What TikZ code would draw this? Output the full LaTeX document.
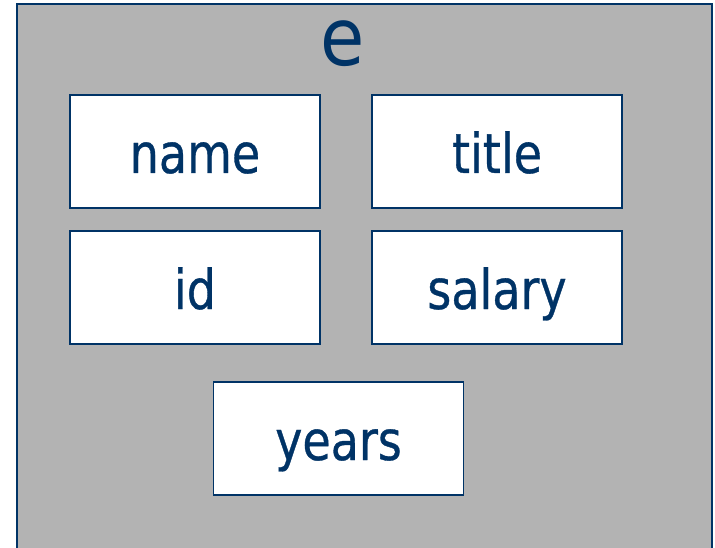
\documentclass[tikz,border=0pt]{standalone}
\usepackage{fontspec}
\setmainfont{DejaVu Sans Condensed}
\newfontfamily\labelfont[FakeStretch=0.93,FakeBold=0.6]{DejaVu Sans Condensed}
\definecolor{navy}{HTML}{003366}
\definecolor{panel}{HTML}{B3B3B3}
\begin{document}
\begin{tikzpicture}[x=1pt,y=-1pt,
  field/.style={draw=navy,line width=1.8pt,fill=white,minimum width=250pt,minimum height=113pt,inner sep=0pt,outer sep=0pt},
  fieldtext/.style={anchor=base,text=navy,inner sep=0pt,font=\labelfont\fontsize{55}{60}\selectfont},
  headtext/.style={anchor=base,text=navy,inner sep=0pt,font=\fontsize{80}{90}\selectfont}]
  \useasboundingbox (0,0) rectangle (715,548);
  % outer record panel
  \draw[navy,line width=2pt,fill=panel] (17,4) rectangle (712,552);
  \node[headtext] (e) at (343,66) {e};
  % field boxes
  \node[field] (name) at (195,151.5) {};
  \node[field] (title) at (497,151.5) {};
  \node[field] (id) at (195,287.5) {};
  \node[field] (salary) at (497,287.5) {};
  \node[field] (years) at (338.5,438.5) {};
  % field labels
  \node[fieldtext] (tname) at (195,173) {name};
  \node[fieldtext] (ttitle) at (497,173) {title};
  \node[fieldtext] (tid) at (195,309) {id};
  \node[fieldtext] (tsalary) at (497,309) {salary};
  \node[fieldtext] (tyears) at (338.5,460) {years};
\end{tikzpicture}
\end{document}
